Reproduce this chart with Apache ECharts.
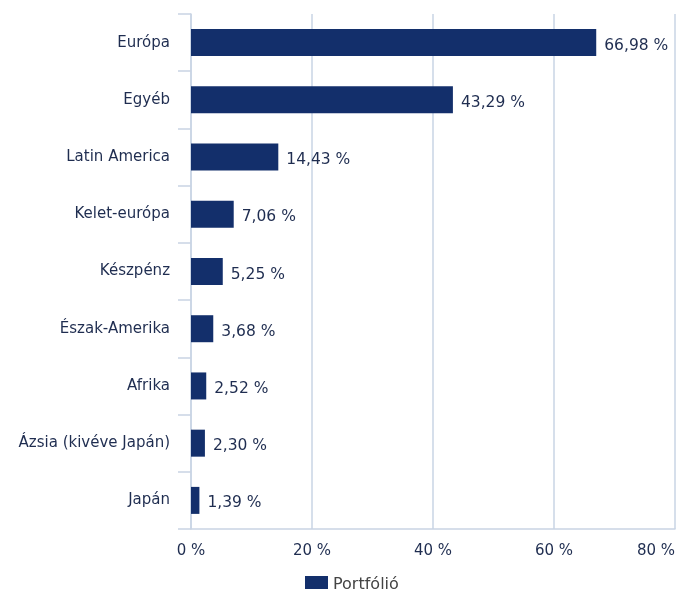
<!DOCTYPE html>
<html>
<head>
<meta charset="utf-8">
<script src="https://cdn.jsdelivr.net/npm/echarts@6/dist/echarts.min.js"></script>
<style>
  html, body { margin: 0; padding: 0; background: #fff; }
  #chart { width: 677px; height: 589px; }
</style>
</head>
<body>
<div id="chart"></div>
<script>
const regions = [
  "Európa",
  "Egyéb",
  "Latin America",
  "Kelet-európa",
  "Készpénz",
  "Észak-Amerika",
  "Afrika",
  "Ázsia (kivéve Japán)",
  "Japán",
];
const portfolio = [66.98, 43.29, 14.43, 7.06, 5.25, 3.68, 2.52, 2.3, 1.39];
const seriesName = "Portfólió";

const textColor = "#1f2d50";
const lineColor = "#c9d4e4";
const barColor = "#132f6b";
const fmt = (v) => v.toFixed(2).replace(".", ",") + " %";

const chart = echarts.init(document.getElementById("chart"));
chart.setOption({
  animation: false,
  textStyle: { fontFamily: "DejaVu Sans" },
  grid: { left: 191, right: 2, top: 14, bottom: 60, outerBoundsMode: "none", containLabel: false },
  legend: {
    data: [seriesName],
    top: 571,
    left: 300,
    icon: "rect",
    itemWidth: 23,
    itemHeight: 18,
    itemGap: 8,
    textStyle: { color: "#444", fontSize: 16, fontFamily: "DejaVu Sans" },
  },
  xAxis: {
    type: "value",
    min: 0,
    max: 80,
    interval: 20,
    axisLine: { show: true, lineStyle: { color: lineColor, width: 1.5 } },
    axisTick: { show: false },
    splitLine: { show: true, lineStyle: { color: lineColor, width: 1.5 } },
    axisLabel: {
      color: textColor,
      fontSize: 15,
      margin: 15,
      alignMaxLabel: "right",
      formatter: (v) => v + " %",
    },
  },
  yAxis: {
    type: "category",
    data: regions,
    inverse: true,
    axisLine: { show: true, lineStyle: { color: lineColor, width: 1.5 } },
    axisTick: { show: true, length: 13, lineStyle: { color: lineColor, width: 1.5 } },
    axisLabel: { color: textColor, fontSize: 15, margin: 21 },
  },
  series: [
    {
      name: seriesName,
      type: "bar",
      data: portfolio,
      barWidth: 27,
      itemStyle: { color: barColor },
      label: {
        show: true,
        position: "right",
        distance: 8,
        color: textColor,
        fontSize: 15.5,
        offset: [0, 3],
        formatter: (p) => fmt(p.value),
      },
    },
  ],
});
</script>
</body>
</html>
